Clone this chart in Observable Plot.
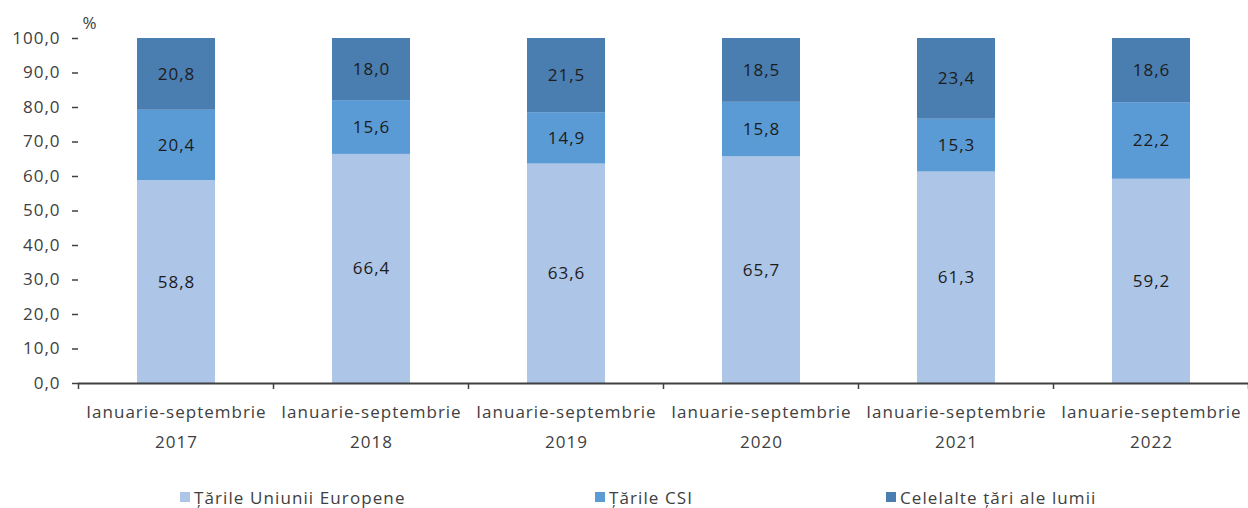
<!DOCTYPE html>
<html>
<head>
<meta charset="utf-8">
<script src="https://cdn.jsdelivr.net/npm/d3@7"></script>
<script src="https://cdn.jsdelivr.net/npm/@observablehq/plot@0.6"></script>
<style>
  html, body { margin: 0; padding: 0; background: #fff; }
  #wrap { position: relative; width: 1248px; height: 508px; overflow: hidden; font-family: "Open Sans", sans-serif; }
  #legend { position: absolute; top: 482px; left: 0; width: 1248px; height: 26px; }
  .item { position: absolute; top: 0; display: flex; align-items: center; height: 30px; font-size: 17px; color: #404040; letter-spacing: 1.1px; }
  .sw { width: 10px; height: 10px; margin-right: 4px; }
</style>
</head>
<body>
<div id="wrap">
  <div id="chart"></div>
  <div id="legend"></div>
</div>
<script>
const periods = ["2017", "2018", "2019", "2020", "2021", "2022"];
const periodPrefix = "Ianuarie-septembrie";
const seriesNames = ["Țările Uniunii Europene", "Țările CSI", "Celelalte țări ale lumii"];
const seriesColors = ["#adc5e6", "#5b9bd5", "#4a7db0"];
const euValues = [58.8, 66.4, 63.6, 65.7, 61.3, 59.2];
const csiValues = [20.4, 15.6, 14.9, 15.8, 15.3, 22.2];
const otherValues = [20.8, 18.0, 21.5, 18.5, 23.4, 18.6];
const yTicks = [0, 10, 20, 30, 40, 50, 60, 70, 80, 90, 100];
const legendLefts = [180, 595, 886];

const seriesValues = [euValues, csiValues, otherValues];
const data = [];
seriesNames.forEach((s, i) => {
  periods.forEach((p, j) => data.push({period: p, series: s, value: seriesValues[i][j]}));
});

const fmt = v => v.toFixed(1).replace(".", ",");
const ink = "#404040";

const chart = Plot.plot({
  width: 1248,
  height: 482,
  marginLeft: 78,
  marginRight: 0,
  marginTop: 38,
  marginBottom: 99,
  style: { fontFamily: "'Open Sans', sans-serif", fontSize: "17px", letterSpacing: "1px", color: ink, background: "#fff" },
  x: { domain: periods, paddingInner: 0.6, paddingOuter: 0.3, label: null },
  y: { domain: [0, 100], label: null },
  color: { domain: seriesNames, range: seriesColors },
  marks: [
    Plot.barY(data, Plot.stackY({x: "period", y: "value", z: "series", fill: "series"})),
    Plot.text(data, Plot.stackY({x: "period", y: "value", z: "series", text: d => fmt(d.value), fill: "#1c1c1c", fontSize: 17})),
    Plot.axisY({ticks: yTicks, tickFormat: fmt, tickSize: 6, tickPadding: 12, stroke: ink, strokeWidth: 1.5, fill: ink, fontSize: 17}),
    Plot.ruleX([0], {stroke: ink, strokeWidth: 2, frameAnchor: "left"}),
    Plot.ruleY([0], {stroke: ink, strokeWidth: 2}),
    Plot.axisX({tickSize: 0, tickPadding: 13, tickFormat: d => periodPrefix + "\n" + d, lineHeight: 1.76, fill: ink, fontSize: 17}),
    Plot.text(["%"], {frameAnchor: "top-left", dx: 4, dy: -22, fill: ink, fontSize: 17})
  ]
});

// band-boundary tick marks on the x axis, from the library's x scale
const xs = chart.scale("x");
const ys = chart.scale("y");
const y0 = ys.apply(0);
const svg = d3.select(chart);
const bounds = [];
periods.forEach((p, i) => {
  const left = xs.apply(p) - (xs.step - xs.bandwidth) / 2;
  bounds.push(left);
  if (i === periods.length - 1) bounds.push(left + xs.step);
});
svg.append("g").selectAll("line").data(bounds).join("line")
  .attr("x1", d => d).attr("x2", d => d)
  .attr("y1", y0).attr("y2", y0 + 6)
  .attr("stroke", ink).attr("stroke-width", 1.5);

document.getElementById("chart").appendChild(chart);

const legend = d3.select("#legend");
seriesNames.forEach((s, i) => {
  const it = legend.append("div").attr("class", "item").style("left", legendLefts[i] + "px");
  it.append("div").attr("class", "sw").style("background", seriesColors[i]);
  it.append("span").text(s);
});
</script>
</body>
</html>
